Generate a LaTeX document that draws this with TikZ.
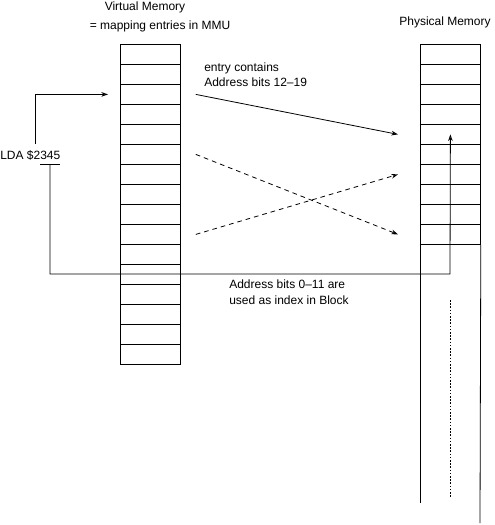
\documentclass[tikz,border=0pt]{standalone}
\usepackage{fontspec}
\setmainfont{Liberation Sans}
\usetikzlibrary{arrows.meta,positioning}

\begin{document}
\begin{tikzpicture}
  [
    x=0.75pt, y=-0.75pt,
    Cell/.style={draw, line width=0.6pt, minimum width=45pt, minimum height=15pt, inner sep=0pt, anchor=north west},
    Label/.style={font=\fontsize{9}{10.5}\selectfont, inner sep=0pt},
    Line/.style={line width=0.6pt},
    Arr/.style={Line, -{Stealth[open, length=5pt, width=3.5pt]}}
  ]
  \useasboundingbox (0,0) rectangle (495,525);
  % Virtual memory
  \foreach \i in {1,...,16}
    \node[Cell] (v\i) at (120, {44+20*(\i-1)}) {};
  % Physical memory
  \foreach \i in {1,...,10}
    \node[Cell] (p\i) at (420, {44+20*(\i-1)}) {};
  \coordinate (pl) at (420,503);
  \coordinate (pr) at (480,523);
  \draw[Line] (p10.south west) -- (pl);
  \draw[Line] (p10.south east) -- (pr);
  \draw[Line, dash pattern=on 1.2pt off 1.2pt] (450,300) -- (450,497);
  % Texts
  \node[Label] (vtitle) at (145,7) {Virtual Memory};
  \node[Label] (vsub) at (160,26) {= mapping entries in MMU};
  \node[Label] (ptitle) at (445,22) {Physical Memory};
  \node[Label, anchor=west] (entry) at (204,68) {entry contains};
  \node[Label, anchor=west] (bitshi) at (204,82) {Address bits 12--19};
  \node[Label, anchor=west] (bitslo) at (229,284) {Address bits 0--11 are};
  \node[Label, anchor=west] (index) at (229,300) {used as index in Block};
  \node[Label, anchor=west] (lda) at (0,155) {LDA \$2345};
  % Lines
  \coordinate (up) at (35,144);
  \coordinate (ul) at (50,164);
  \coordinate (turn) at (450,274);
  \draw[Line] (40,164) -- (60,164);
  \draw[Arr] (up) |- ([xshift=-9pt]v3.west);
  \draw[Arr] (ul) |- (turn) -- (p5.center);
  \draw[Arr] ([xshift=11.25pt]v3.east) -- ([xshift=-16.5pt]p5.west);
  \draw[Arr, dash pattern=on 3.5pt off 3pt] ([xshift=11.25pt]v6.east) -- ([xshift=-16.5pt]p10.west);
  \draw[Arr, dash pattern=on 3.5pt off 3pt] ([xshift=11.25pt]v10.east) -- ([xshift=-16.5pt]p7.west);
\end{tikzpicture}
\end{document}
